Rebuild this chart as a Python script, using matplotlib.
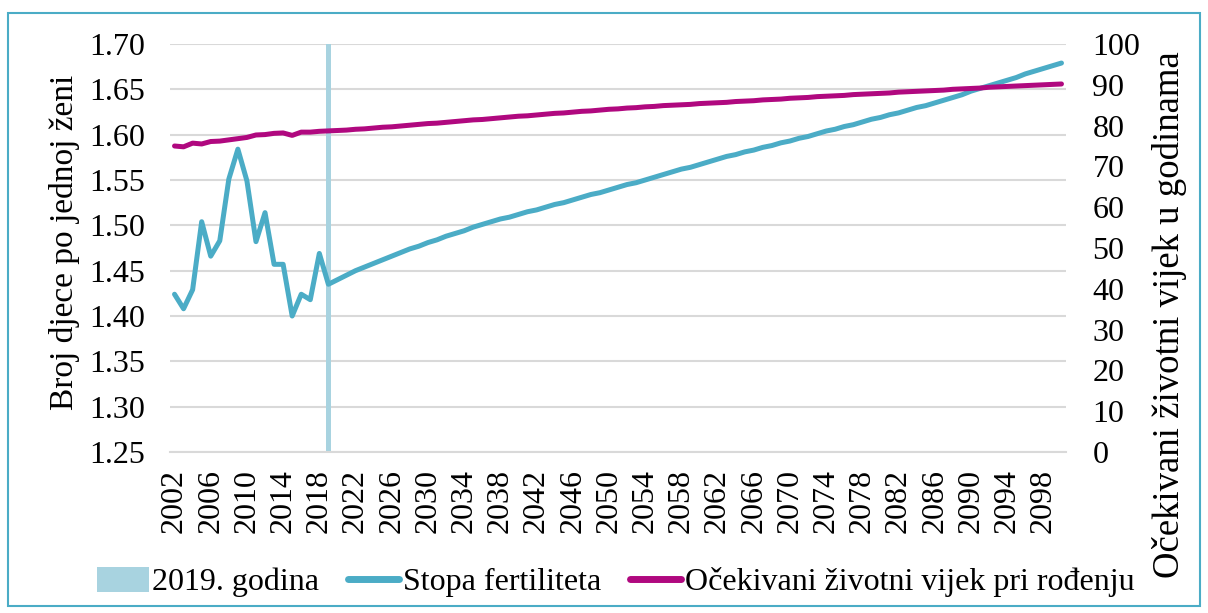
import numpy as np
import matplotlib.pyplot as plt
from matplotlib.patches import Rectangle

plt.rcParams['font.family'] = 'serif'
plt.rcParams['font.serif'] = ['Liberation Serif', 'DejaVu Serif']

# years 2002 - 2100
years = list(range(2002, 2101))

# total fertility rate (children per woman)
fertility = [
    1.424, 1.408, 1.429, 1.504, 1.466, 1.483, 1.551, 1.584,          # 2002-2009
    1.549, 1.482, 1.514, 1.457, 1.457, 1.400, 1.424, 1.418, 1.469, 1.435,  # 2010-2019
    1.440, 1.445, 1.450, 1.454, 1.458, 1.462, 1.466, 1.470, 1.474, 1.477,  # 2020-2029
    1.481, 1.484, 1.488, 1.491, 1.494, 1.498, 1.501, 1.504, 1.507, 1.509,  # 2030-2039
    1.512, 1.515, 1.517, 1.520, 1.523, 1.525, 1.528, 1.531, 1.534, 1.536,  # 2040-2049
    1.539, 1.542, 1.545, 1.547, 1.550, 1.553, 1.556, 1.559, 1.562, 1.564,  # 2050-2059
    1.567, 1.570, 1.573, 1.576, 1.578, 1.581, 1.583, 1.586, 1.588, 1.591,  # 2060-2069
    1.593, 1.596, 1.598, 1.601, 1.604, 1.606, 1.609, 1.611, 1.614, 1.617,  # 2070-2079
    1.619, 1.622, 1.624, 1.627, 1.630, 1.632, 1.635, 1.638, 1.641, 1.644,  # 2080-2089
    1.648, 1.651, 1.654, 1.657, 1.660, 1.663, 1.667, 1.670, 1.673, 1.676,  # 2090-2099
    1.679,                                                              # 2100
]

# life expectancy at birth (years)
life_exp = [
    75.0, 74.8, 75.7, 75.5, 76.1, 76.2, 76.5, 76.8,                  # 2002-2009
    77.1, 77.7, 77.8, 78.1, 78.2, 77.6, 78.4, 78.4, 78.6, 78.7,      # 2010-2019
    78.8, 78.9, 79.1, 79.2, 79.4, 79.6, 79.7, 79.9, 80.1, 80.3,      # 2020-2029
    80.5, 80.6, 80.8, 81.0, 81.2, 81.4, 81.5, 81.7, 81.9, 82.1,      # 2030-2039
    82.3, 82.4, 82.6, 82.8, 83.0, 83.1, 83.3, 83.5, 83.6, 83.8,      # 2040-2049
    84.0, 84.1, 84.3, 84.4, 84.6, 84.7, 84.9, 85.0, 85.1, 85.2,      # 2050-2059
    85.4, 85.5, 85.6, 85.7, 85.9, 86.0, 86.1, 86.3, 86.4, 86.5,      # 2060-2069
    86.7, 86.8, 86.9, 87.1, 87.2, 87.3, 87.4, 87.6, 87.7, 87.8,      # 2070-2079
    87.9, 88.0, 88.2, 88.3, 88.4, 88.5, 88.6, 88.7, 88.9, 89.0,      # 2080-2089
    89.1, 89.2, 89.4, 89.5, 89.6, 89.7, 89.8, 89.9, 90.0, 90.1,      # 2090-2099
    90.2,                                                            # 2100
]

# marker column for the base year
bar_year = [2019]
bar_value = [1.70]

left_ticks = [1.25, 1.30, 1.35, 1.40, 1.45, 1.50, 1.55, 1.60, 1.65, 1.70]
right_ticks = list(range(0, 101, 10))
x_ticks = list(range(2002, 2101, 4))

c_bar = '#A8D3E0'
c_fert = '#4BACC6'
c_life = '#B0087F'
c_grid = '#D9D9D9'

fig = plt.figure(figsize=(12.08, 6.13), dpi=100)
ax = fig.add_axes([170 / 1208, 1 - 452 / 613, 896 / 1208, 408 / 613])
ax2 = ax.twinx()

bars = ax.bar(bar_year, bar_value, width=0.6, color=c_bar, zorder=2)
fert_line, = ax.plot(years, fertility, color=c_fert, lw=3.6, solid_capstyle='round',
                     zorder=3)
life_line, = ax2.plot(years, life_exp, color=c_life, lw=3.6, solid_capstyle='round',
                      zorder=3)

ax.set_xlim(2001.5, 2100.5)
ax.set_ylim(1.25, 1.70)
ax2.set_ylim(0, 100)
ax.set_yticks(left_ticks)
ax.set_yticklabels([f'{v:.2f}' for v in left_ticks])
ax2.set_yticks(right_ticks)
ax.set_xticks(x_ticks)
ax.set_xticklabels([str(y) for y in x_ticks], rotation=90)

ax.grid(axis='y', color=c_grid, lw=1.5, zorder=0)
ax.set_axisbelow(True)
for a in (ax, ax2):
    for s in ('top', 'left', 'right'):
        a.spines[s].set_visible(False)
ax.spines['bottom'].set_color(c_grid)
ax.spines['bottom'].set_linewidth(1.5)
ax2.spines['bottom'].set_visible(False)

ax.tick_params(axis='y', length=0, pad=18, labelsize=23)
ax.tick_params(axis='x', length=0, pad=12, labelsize=23)
ax2.tick_params(axis='y', length=0, pad=19, labelsize=23)

ax.set_ylabel('Broj djece po jednoj ženi', fontsize=24)
ax.yaxis.set_label_coords(-0.10, 0.515)
ax2.set_ylabel('Očekivani životni vijek u godinama', fontsize=26.5)
ax2.yaxis.set_label_coords(1.096, 0.336)

leg = fig.legend([bars, fert_line, life_line],
                 ['2019. godina', 'Stopa fertiliteta',
                  'Očekivani životni vijek pri rođenju'],
                 loc='center', bbox_to_anchor=(0.51, 1 - 582 / 613),
                 ncol=3, frameon=False, fontsize=23, handlelength=1.6,
                 handleheight=0.85, handletextpad=0.12, columnspacing=0.9)
for h in leg.legend_handles[1:]:
    h.set_linewidth(5)

fig.patches.append(Rectangle((8 / 1208, 1 - 606 / 613), 1192 / 1208, 593 / 613,
                             transform=fig.transFigure, fill=False,
                             edgecolor=c_fert, lw=1.5))

fig.savefig('out.png', dpi=100)
